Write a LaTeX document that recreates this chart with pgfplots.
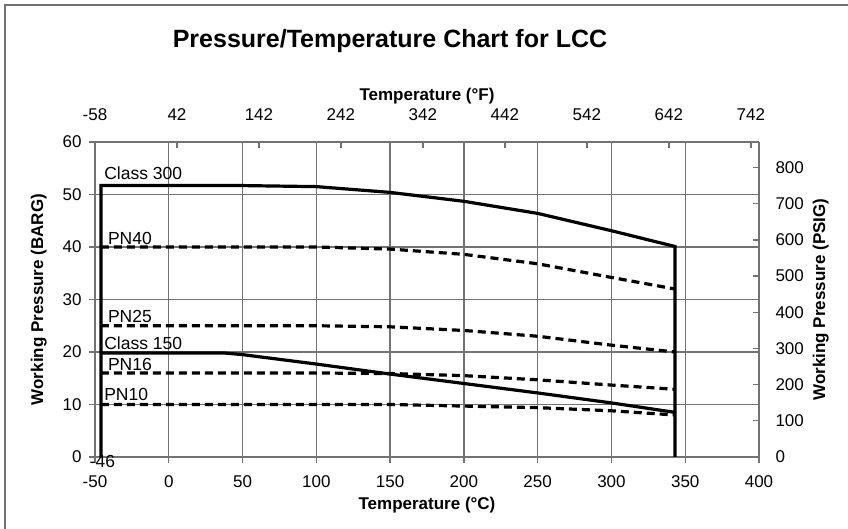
\documentclass[border=0pt]{standalone}
\usepackage{fontspec}
\setmainfont{Liberation Sans}
\usepackage{pgfplots}
\pgfplotsset{compat=1.18}

\definecolor{gridgray}{RGB}{115,115,115}

\pgfplotsset{
  lcc/.style={
    scale only axis, width=664pt, height=315pt,
    at={(95pt,72pt)}, anchor=south west,
    axis line style={gridgray, line width=1.4pt},
    major tick style={gridgray, line width=1.4pt},
    major tick length=6pt,
    tick label style={font=\fontsize{17}{20}\selectfont},
    label style={font=\bfseries\fontsize{17}{20}\selectfont},
    /pgf/number format/assume math mode=true,
  },
  curve/.style={black, mark=none, line width=3.2pt, line join=miter},
  dashcurve/.style={curve, dash pattern=on 8pt off 5pt},
}

\begin{document}
\begin{tikzpicture}
\useasboundingbox (0,0) rectangle (848pt,529pt);
\draw[gridgray, line width=1.2pt] (5pt,0) -- (5pt,524pt) -- (848pt,524pt);

% secondary axes: degF on top, psig on right
\begin{axis}[lcc,
  xmin=-58, xmax=752, ymin=0, ymax=870.2,
  axis x line*=top, axis y line*=right,
  xtick={-58,42,...,742}, ytick={0,100,...,800},
  tick align=inside,
  xticklabel style={yshift=18pt},
  yticklabel style={xshift=13pt},
  xlabel={Temperature (°F)},
  xlabel style={yshift=-2pt},
  ylabel={Working Pressure (PSIG)},
  ylabel style={yshift=-2pt},
]
\addplot[draw=none] coordinates {(-58,0)};
\end{axis}

\begin{axis}[lcc,
  xmin=-50, xmax=400, ymin=0, ymax=60,
  axis x line*=bottom, axis y line*=left,
  xtick={-50,0,...,400}, ytick={0,10,...,60},
  tick align=outside,
  grid=major, grid style={gridgray, line width=1.4pt},
  xticklabel style={yshift=-9pt},
  yticklabel style={xshift=-4pt},
  xlabel={Temperature (°C)},
  xlabel style={yshift=-3pt},
  ylabel={Working Pressure (BARG)},
  ylabel style={yshift=9pt},
  clip=false,
]
% Class 300
\addplot[curve] coordinates {(-46,0) (-46,51.7) (38,51.7) (50,51.7) (100,51.5)
  (150,50.4) (200,48.7) (250,46.4) (300,43.1) (343,40.1) (343,0)};
% Class 150
\addplot[curve] coordinates {(-46,19.8) (38,19.8) (50,19.5) (100,17.7)
  (150,15.8) (200,14.0) (250,12.2) (300,10.3) (343,8.5)};
% PN40
\addplot[dashcurve] coordinates {(-46,40) (100,40) (150,39.6) (200,38.6)
  (250,36.8) (300,34.2) (343,32.0)};
% PN25
\addplot[dashcurve] coordinates {(-46,25) (100,25) (150,24.8) (200,24.1)
  (250,23.0) (300,21.3) (343,20.0)};
% PN16
\addplot[dashcurve] coordinates {(-46,16) (100,16) (150,15.9) (200,15.5)
  (250,14.7) (300,13.7) (343,12.9)};
% PN10
\addplot[dashcurve] coordinates {(-46,10) (100,10) (150,10) (200,9.7)
  (250,9.4) (300,8.8) (343,8.0)};

\begin{scope}[every node/.style={font=\fontsize{17.5}{20}\selectfont, anchor=south west, inner sep=1pt}]
\node at (axis cs:-44.5,52.5) {Class 300};
\node at (axis cs:-42,40.2) {PN40};
\node at (axis cs:-42,25.3) {PN25};
\node at (axis cs:-44.5,20.3) {Class 150};
\node at (axis cs:-42,16.2) {PN16};
\node at (axis cs:-44.5,10.5) {PN10};
\node[anchor=north] at (axis cs:-45,0.5) {-46};
\end{scope}
\end{axis}

\node[font=\bfseries\fontsize{25}{30}\selectfont] at (390pt,488pt) {Pressure/Temperature Chart for LCC};
\end{tikzpicture}
\end{document}
